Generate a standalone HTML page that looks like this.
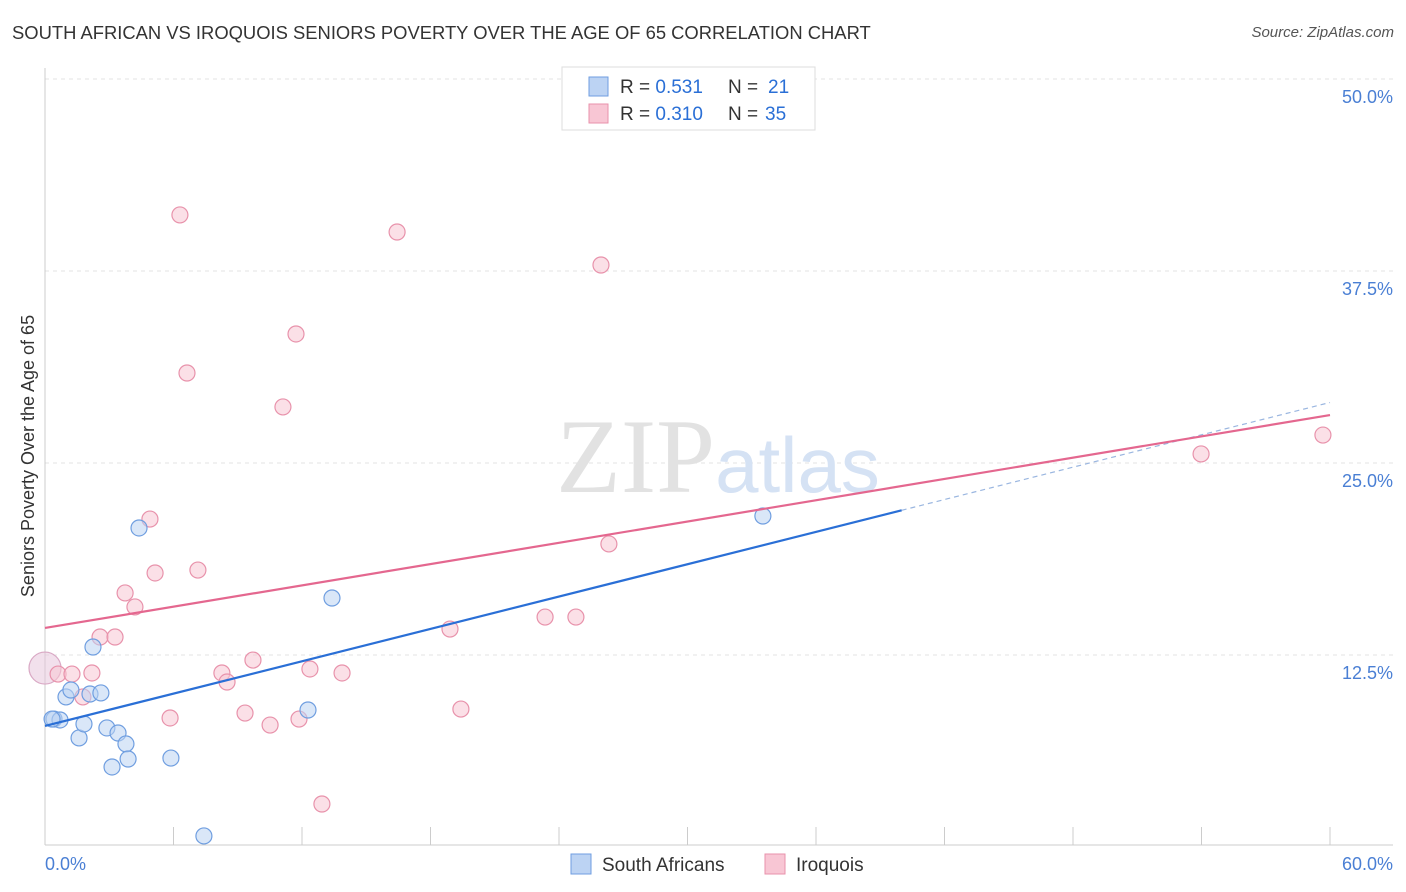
<!DOCTYPE html>
<html><head><meta charset="utf-8"><style>
body{margin:0;background:#fff;font-family:"Liberation Sans",sans-serif;}
#wrap{position:relative;width:1406px;height:892px;overflow:hidden}
.t{position:absolute;white-space:nowrap}
</style></head><body>
<div id="wrap">
<div class="t" style="left:12px;top:22px;font-size:18.4px;color:#333">SOUTH AFRICAN VS IROQUOIS SENIORS POVERTY OVER THE AGE OF 65 CORRELATION CHART</div>
<div class="t" style="right:12px;top:24px;font-size:15px;color:#555;font-style:italic">Source: ZipAtlas.com</div>
<svg id="svg" width="1406" height="892" style="position:absolute;left:0;top:0"></svg>
</div>
<script>
const xTicks=[0,60];
const yTicks=[12.5,25,37.5,50];
const blueX=[0.42,0.70,0.98,1.21,1.59,1.82,2.10,2.61,2.24,2.89,3.13,3.41,3.78,3.88,4.39,5.88,7.42,12.28,13.40,33.52,0.33];
const blueY=[8.33,8.27,9.77,10.22,7.10,8.01,9.96,10.03,13.02,7.75,5.21,7.42,6.71,5.73,20.77,5.79,0.72,8.92,16.21,21.55,8.33];
const pinkX=[0,0.61,1.26,1.77,2.19,2.57,3.27,3.74,4.20,4.90,5.14,6.30,6.63,7.14,8.26,8.50,9.34,9.71,10.51,11.11,11.72,11.86,12.37,12.93,13.87,16.44,18.91,19.42,23.35,24.79,25.96,26.33,53.98,59.67,5.84];
const pinkY=[11.65,11.26,11.26,9.77,11.33,13.67,13.67,16.54,15.63,21.35,17.84,41.15,30.86,18.03,11.33,10.74,8.72,12.17,7.94,28.65,33.40,8.33,11.59,2.80,11.33,40.04,14.19,8.98,14.97,14.97,37.89,19.73,25.59,26.82,8.40];
const blueTrend=[7.88,0.351];
const pinkTrend=[14.26,0.231];
const X=v=>45+v*1285/60, Y=v=>847-v*15.36;
const s=document.getElementById('svg');const NS='http://www.w3.org/2000/svg';
function mk(tag,a,p){const e=document.createElementNS(NS,tag);for(const k in a)e.setAttribute(k,a[k]);(p||s).appendChild(e);return e;}
let e;
yTicks.forEach(v=>{e=mk('line',{x1:45,x2:1393,y1:Y(v),y2:Y(v),stroke:'#e3e3e3','stroke-dasharray':'4,4'});

e=mk('text',{x:1393,y:Y(v)+24,'text-anchor':'end','font-size':18,fill:'#4a7fd4'});e.textContent=v.toFixed(1)+'%';
});
e=mk('line',{x1:45,x2:45,y1:68,y2:845,stroke:'#ccc'});
e=mk('line',{x1:45,x2:1393,y1:845,y2:845,stroke:'#ccc'});
for(let i=0;i<=10;i++){e=mk('line',{x1:X(i*6),x2:X(i*6),y1:827,y2:845,stroke:'#ccc'});}
xTicks.forEach((v,i)=>{e=mk('text',{x:i?1393:45,y:870,'text-anchor':i?'end':'start','font-size':18,fill:'#4a7fd4'});e.textContent=v.toFixed(1)+'%';
});
e=mk('text',{x:34,y:456,'text-anchor':'middle','font-size':18,fill:'#333',transform:'rotate(-90 34 456)'});e.textContent='Seniors Poverty Over the Age of 65';

e=mk('text',{x:718,y:492,'text-anchor':'middle','font-size':106,fill:'#e2e2e2','font-family':'Liberation Serif'});e.innerHTML='ZIP<tspan fill="#d5e2f4" font-family="Liberation Sans" font-size="78">atlas</tspan>';

function dots(xs,ys,f,st,n){xs.forEach((x,i)=>{const big=(n==='iroquois-point'&&i===0);e=mk('circle',{cx:X(x),cy:Y(ys[i]),r:big?16:8,fill:big?'#e8c6dc':f,stroke:big?'#d9a8c4':st,'stroke-width':1.2,'fill-opacity':big?0.55:0.55});
});}
dots(pinkX,pinkY,'#f8c6d4','#e892ab','iroquois-point');
dots(blueX,blueY,'#bcd3f3','#6f9ee0','south-african-point');
e=mk('line',{x1:X(0),y1:Y(blueTrend[0]),x2:X(40),y2:Y(blueTrend[0]+40*blueTrend[1]),stroke:'#2a6fd6','stroke-width':2.2});

e=mk('line',{x1:X(40),y1:Y(blueTrend[0]+40*blueTrend[1]),x2:X(60),y2:Y(blueTrend[0]+60*blueTrend[1]),stroke:'#9ab6e0','stroke-width':1.2,'stroke-dasharray':'5,4'});

e=mk('line',{x1:X(0),y1:Y(pinkTrend[0]),x2:X(60),y2:Y(pinkTrend[0]+60*pinkTrend[1]),stroke:'#e4678f','stroke-width':2.2});

e=mk('rect',{x:562,y:67,width:253,height:63,fill:'#fff',stroke:'#ddd'});
[['#bcd3f3','#6f9ee0','0.531','21',86],['#f8c6d4','#e892ab','0.310','35',113]].forEach(r=>{
e=mk('rect',{x:589,y:r[4]-9,width:19,height:19,fill:r[0],stroke:r[1]});
e=mk('text',{x:620,y:r[4]+7,'font-size':19,fill:'#333'});e.innerHTML='R = <tspan fill="#2a6fd6">'+r[2]+'</tspan><tspan x="728">N = </tspan><tspan fill="#2a6fd6" x="'+(r[3]==='21'?768:765)+'">'+r[3]+'</tspan>';
});
[['#bcd3f3','#6f9ee0','South Africans',571],['#f8c6d4','#e892ab','Iroquois',765]].forEach(r=>{
e=mk('rect',{x:r[3],y:854,width:20,height:20,fill:r[0],stroke:r[1]});
e=mk('text',{x:r[3]+31,y:871,'font-size':19,fill:'#333'});e.textContent=r[2];});
</script>
</body></html>
